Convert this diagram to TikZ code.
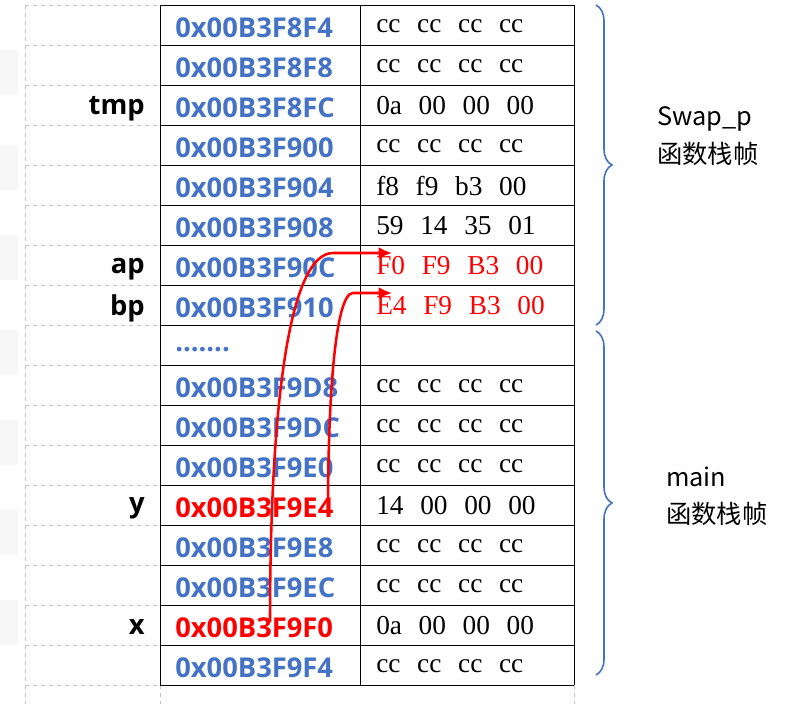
\documentclass[tikz,border=0pt]{standalone}
\usepackage{fontspec}
\setmainfont{Liberation Serif}
\newfontfamily\addrf{Open Sans}
\newfontfamily\cjk{Noto Sans CJK SC}
\usetikzlibrary{decorations.pathreplacing,arrows.meta}
\definecolor{ablue}{HTML}{4472C4}
\newcommand\myvalfont{\fontsize{20.5}{24}\selectfont}
\newcommand\myval[1]{\spaceskip=12.5pt\relax #1}
\begin{document}
\begin{tikzpicture}[x=0.75pt,y=-0.75pt,
  addr/.style={anchor=west,font=\addrf\bfseries\fontsize{20.5}{24}\selectfont,text=ablue,inner sep=0},
  val/.style={anchor=west,font=\myvalfont,inner sep=0},
  lab/.style={anchor=east,font=\addrf\bfseries\fontsize{20.5}{24}\selectfont,inner sep=0},
  side/.style={anchor=west,font=\cjk\fontsize{19}{28}\selectfont,align=left,inner sep=0},
  arr/.style={red,line width=1.9pt,-{Latex[length=10pt,width=9pt]}}]
\useasboundingbox (0,0) rectangle (810,704);
\fill[white] (0,0) rectangle (810,704);
% faint left boxes
\foreach \y in {50,145,235,330,420,510,600} \fill[gray!6] (0,\y) rectangle (18,\y+45);
% dashed label grid
\foreach \i in {0,...,17} \draw[gray!45,dashed] (25,5+40*\i) -- (160,5+40*\i);
\draw[gray!45,dashed] (25,5) -- (25,704);
\draw[gray!45,dashed] (160,685) -- (160,704);
\draw[gray!45,dashed] (574,685) -- (574,704);
% table
\foreach \i in {0,...,17} \draw[black,line width=0.6pt] (160,5+40*\i) -- (574,5+40*\i);
\draw[line width=0.6pt] (160,5) -- (160,685) (360,5) -- (360,685) (574,5) -- (574,685);
\def\rows{0x00B3F8F4/cc cc cc cc/ablue/black,0x00B3F8F8/cc cc cc cc/ablue/black,0x00B3F8FC/0a 00 00 00/ablue/black,0x00B3F900/cc cc cc cc/ablue/black,0x00B3F904/f8 f9 b3 00/ablue/black,0x00B3F908/59 14 35 01/ablue/black,0x00B3F90C/F0 F9 B3 00/ablue/red,0x00B3F910/E4 F9 B3 00/ablue/red,{}/{}/ablue/black,0x00B3F9D8/cc cc cc cc/ablue/black,0x00B3F9DC/cc cc cc cc/ablue/black,0x00B3F9E0/cc cc cc cc/ablue/black,0x00B3F9E4/14 00 00 00/red/black,0x00B3F9E8/cc cc cc cc/ablue/black,0x00B3F9EC/cc cc cc cc/ablue/black,0x00B3F9F0/0a 00 00 00/red/black,0x00B3F9F4/cc cc cc cc/ablue/black}
\foreach \a/\v/\ca/\cv [count=\i from 0] in \rows {
  \node[addr,text=\ca] (a\i) at (175,28+40*\i) {\a};
  \node[val,text=\cv] (v\i) at (376,26+40*\i) {\myval{\v}};
}
\node[addr] (dots) at (175,350) {.......};
\node[lab] (ltmp) at (145,109) {tmp};
\node[lab] (lap) at (145,269) {ap};
\node[lab] (lbp) at (145,308) {bp};
\node[lab] (ly) at (145,508) {y};
\node[lab] (lx) at (145,627) {x};
% arrows
\coordinate (sx) at (270,622);
\coordinate (sy) at (328,512);
\coordinate (tx) at (392,253);
\coordinate (ty) at (392,293);
\draw[arr] (sx) .. controls (270,400) and (290,253) .. (333,253) -- (tx);
\draw[arr] (sy) .. controls (328,400) and (335,293) .. (353,293) -- (ty);
% braces
\draw[line width=1.2pt,ablue,decorate,decoration={brace,amplitude=12pt}] (596,5) -- (596,325) node[coordinate,midway] (b1) {};
\draw[line width=1.2pt,ablue,decorate,decoration={brace,amplitude=12pt}] (596,331) -- (596,675) node[coordinate,midway] (b2) {};
\node[side] (s1) at (657,136) {Swap\_p\\函数栈帧};
\node[side] (s2) at (666,496) {main\\函数栈帧};
\end{tikzpicture}
\end{document}
